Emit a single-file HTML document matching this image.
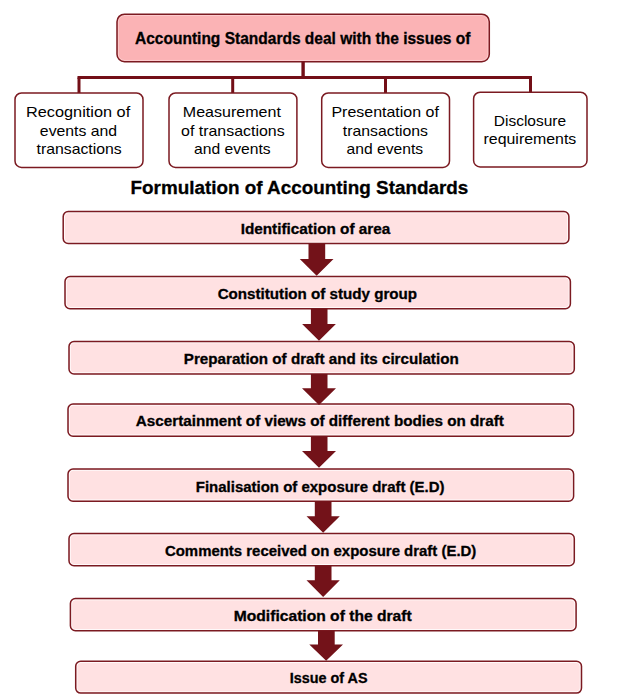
<!DOCTYPE html>
<html><head><meta charset="utf-8"><style>
html,body{margin:0;padding:0;background:#fff;width:630px;height:698px;overflow:hidden}
svg{display:block;font-family:"Liberation Sans",sans-serif}
</style></head><body>
<svg width="630" height="698" viewBox="0 0 630 698">
<rect x="117" y="14.2" width="372.30" height="47.50" rx="7.5" ry="7.5" fill="#fbb3b5"/>
<rect x="118.25" y="15.45" width="369.80" height="45.00" rx="6.25" ry="6.25" fill="none" stroke="#ffffff" stroke-opacity="0.35" stroke-width="1.0"/>
<rect x="117" y="14.2" width="372.30" height="47.50" rx="7.5" ry="7.5" fill="none" stroke="#7b1a21" stroke-width="1.5"/>
<line x1="77.5" y1="77.5" x2="532.0" y2="77.5" stroke="#730f17" stroke-width="3.0"/>
<line x1="303.1" y1="61.7" x2="303.1" y2="77.5" stroke="#730f17" stroke-width="3.4"/>
<line x1="79" y1="77.5" x2="79" y2="93" stroke="#730f17" stroke-width="3.0"/>
<line x1="232.7" y1="77.5" x2="232.7" y2="93" stroke="#730f17" stroke-width="3.0"/>
<line x1="385.5" y1="77.5" x2="385.5" y2="93" stroke="#730f17" stroke-width="3.0"/>
<line x1="530.5" y1="77.5" x2="530.5" y2="92.2" stroke="#730f17" stroke-width="3.0"/>
<rect x="15" y="93" width="128.00" height="74.40" rx="6.5" ry="6.5" fill="#ffffff"/>
<rect x="15" y="93" width="128.00" height="74.40" rx="6.5" ry="6.5" fill="none" stroke="#7b1a21" stroke-width="1.5"/>
<rect x="169" y="93" width="127.90" height="74.40" rx="6.5" ry="6.5" fill="#ffffff"/>
<rect x="169" y="93" width="127.90" height="74.40" rx="6.5" ry="6.5" fill="none" stroke="#7b1a21" stroke-width="1.5"/>
<rect x="321.7" y="93" width="127.80" height="74.40" rx="6.5" ry="6.5" fill="#ffffff"/>
<rect x="321.7" y="93" width="127.80" height="74.40" rx="6.5" ry="6.5" fill="none" stroke="#7b1a21" stroke-width="1.5"/>
<rect x="473.6" y="92.2" width="113.40" height="74.70" rx="6.5" ry="6.5" fill="#ffffff"/>
<rect x="473.6" y="92.2" width="113.40" height="74.70" rx="6.5" ry="6.5" fill="none" stroke="#7b1a21" stroke-width="1.5"/>
<rect x="63.2" y="211.5" width="505.70" height="32.00" rx="5" ry="5" fill="#ffe1e2"/>
<rect x="64.45" y="212.75" width="503.20" height="29.50" rx="3.75" ry="3.75" fill="none" stroke="#ffffff" stroke-opacity="0.85" stroke-width="1.0"/>
<rect x="63.2" y="211.5" width="505.70" height="32.00" rx="5" ry="5" fill="none" stroke="#7b1a21" stroke-width="1.5"/>
<rect x="65" y="276.5" width="505.40" height="32.20" rx="5" ry="5" fill="#ffe1e2"/>
<rect x="66.25" y="277.75" width="502.90" height="29.70" rx="3.75" ry="3.75" fill="none" stroke="#ffffff" stroke-opacity="0.85" stroke-width="1.0"/>
<rect x="65" y="276.5" width="505.40" height="32.20" rx="5" ry="5" fill="none" stroke="#7b1a21" stroke-width="1.5"/>
<rect x="69" y="341.5" width="505.30" height="32.50" rx="5" ry="5" fill="#ffe1e2"/>
<rect x="70.25" y="342.75" width="502.80" height="30.00" rx="3.75" ry="3.75" fill="none" stroke="#ffffff" stroke-opacity="0.85" stroke-width="1.0"/>
<rect x="69" y="341.5" width="505.30" height="32.50" rx="5" ry="5" fill="none" stroke="#7b1a21" stroke-width="1.5"/>
<rect x="68" y="404" width="505.60" height="32.20" rx="5" ry="5" fill="#ffe1e2"/>
<rect x="69.25" y="405.25" width="503.10" height="29.70" rx="3.75" ry="3.75" fill="none" stroke="#ffffff" stroke-opacity="0.85" stroke-width="1.0"/>
<rect x="68" y="404" width="505.60" height="32.20" rx="5" ry="5" fill="none" stroke="#7b1a21" stroke-width="1.5"/>
<rect x="68" y="469" width="505.60" height="32.20" rx="5" ry="5" fill="#ffe1e2"/>
<rect x="69.25" y="470.25" width="503.10" height="29.70" rx="3.75" ry="3.75" fill="none" stroke="#ffffff" stroke-opacity="0.85" stroke-width="1.0"/>
<rect x="68" y="469" width="505.60" height="32.20" rx="5" ry="5" fill="none" stroke="#7b1a21" stroke-width="1.5"/>
<rect x="69" y="533.6" width="505.30" height="32.20" rx="5" ry="5" fill="#ffe1e2"/>
<rect x="70.25" y="534.85" width="502.80" height="29.70" rx="3.75" ry="3.75" fill="none" stroke="#ffffff" stroke-opacity="0.85" stroke-width="1.0"/>
<rect x="69" y="533.6" width="505.30" height="32.20" rx="5" ry="5" fill="none" stroke="#7b1a21" stroke-width="1.5"/>
<rect x="70.4" y="598.6" width="505.70" height="32.20" rx="5" ry="5" fill="#ffe1e2"/>
<rect x="71.65" y="599.85" width="503.20" height="29.70" rx="3.75" ry="3.75" fill="none" stroke="#ffffff" stroke-opacity="0.85" stroke-width="1.0"/>
<rect x="70.4" y="598.6" width="505.70" height="32.20" rx="5" ry="5" fill="none" stroke="#7b1a21" stroke-width="1.5"/>
<rect x="75.7" y="661.3" width="505.80" height="31.80" rx="5" ry="5" fill="#ffe1e2"/>
<rect x="76.95" y="662.55" width="503.30" height="29.30" rx="3.75" ry="3.75" fill="none" stroke="#ffffff" stroke-opacity="0.85" stroke-width="1.0"/>
<rect x="75.7" y="661.3" width="505.80" height="31.80" rx="5" ry="5" fill="none" stroke="#7b1a21" stroke-width="1.5"/>
<polygon points="308.5,243.5 325.2,243.5 325.2,259 333.5,259 316.65,275.8 299.8,259 308.5,259" fill="#731219"/>
<polygon points="310.9,308.7 327.5,308.7 327.5,324 335.9,324 319.0,340.8 302.1,324 310.9,324" fill="#731219"/>
<polygon points="310.9,374 327.5,374 327.5,388.2 336,388.2 319.0,405 302,388.2 310.9,388.2" fill="#731219"/>
<polygon points="310.9,436.2 327.5,436.2 327.5,451 336,451 319.0,467.8 302,451 310.9,451" fill="#731219"/>
<polygon points="314.8,501.2 331.5,501.2 331.5,516.3 339.8,516.3 323.15,532.8 306.5,516.3 314.8,516.3" fill="#731219"/>
<polygon points="314.8,565.8 331.5,565.8 331.5,580.2 339.8,580.2 323.15,597 306.5,580.2 314.8,580.2" fill="#731219"/>
<polygon points="318,630.8 334.7,630.8 334.7,644.4 343,644.4 326.15,660.8 309.3,644.4 318,644.4" fill="#731219"/>
<text x="134.99" y="43.6" font-size="15.8" font-weight="bold" textLength="335.47" lengthAdjust="spacingAndGlyphs" fill="#000000" stroke="#000000" stroke-width="0.3">Accounting Standards deal with the issues of</text>
<text x="26.0" y="116.9" font-size="15.0" font-weight="normal" textLength="104.18" lengthAdjust="spacingAndGlyphs" fill="#000000" stroke="#000000" stroke-width="0.0">Recognition of</text>
<text x="39.87" y="136" font-size="15.0" font-weight="normal" textLength="77.26" lengthAdjust="spacingAndGlyphs" fill="#000000" stroke="#000000" stroke-width="0.0">events and</text>
<text x="36.56" y="154" font-size="15.0" font-weight="normal" textLength="85.2" lengthAdjust="spacingAndGlyphs" fill="#000000" stroke="#000000" stroke-width="0.0">transactions</text>
<text x="182.82" y="116.9" font-size="15.0" font-weight="normal" textLength="98.11" lengthAdjust="spacingAndGlyphs" fill="#000000" stroke="#000000" stroke-width="0.0">Measurement</text>
<text x="181.07" y="135.6" font-size="15.0" font-weight="normal" textLength="103.54" lengthAdjust="spacingAndGlyphs" fill="#000000" stroke="#000000" stroke-width="0.0">of transactions</text>
<text x="193.97" y="154" font-size="15.0" font-weight="normal" textLength="76.6" lengthAdjust="spacingAndGlyphs" fill="#000000" stroke="#000000" stroke-width="0.0">and events</text>
<text x="331.45" y="116.9" font-size="15.0" font-weight="normal" textLength="107.4" lengthAdjust="spacingAndGlyphs" fill="#000000" stroke="#000000" stroke-width="0.0">Presentation of</text>
<text x="342.82" y="135.6" font-size="15.0" font-weight="normal" textLength="85.19" lengthAdjust="spacingAndGlyphs" fill="#000000" stroke="#000000" stroke-width="0.0">transactions</text>
<text x="346.61" y="154" font-size="15.0" font-weight="normal" textLength="76.51" lengthAdjust="spacingAndGlyphs" fill="#000000" stroke="#000000" stroke-width="0.0">and events</text>
<text x="493.8" y="125.8" font-size="15.0" font-weight="normal" textLength="72.33" lengthAdjust="spacingAndGlyphs" fill="#000000" stroke="#000000" stroke-width="0.0">Disclosure</text>
<text x="483.56" y="143.7" font-size="15.0" font-weight="normal" textLength="92.74" lengthAdjust="spacingAndGlyphs" fill="#000000" stroke="#000000" stroke-width="0.0">requirements</text>
<text x="130.55" y="193.5" font-size="18.8" font-weight="bold" textLength="337.79" lengthAdjust="spacingAndGlyphs" fill="#000000" stroke="#000000" stroke-width="0.3">Formulation of Accounting Standards</text>
<text x="240.67" y="233.9" font-size="14.3" font-weight="bold" textLength="149.6" lengthAdjust="spacingAndGlyphs" fill="#000000" stroke="#000000" stroke-width="0.3">Identification of area</text>
<text x="217.7" y="298.8" font-size="14.3" font-weight="bold" textLength="199.35" lengthAdjust="spacingAndGlyphs" fill="#000000" stroke="#000000" stroke-width="0.3">Constitution of study group</text>
<text x="183.82" y="363.6" font-size="14.3" font-weight="bold" textLength="274.88" lengthAdjust="spacingAndGlyphs" fill="#000000" stroke="#000000" stroke-width="0.3">Preparation of draft and its circulation</text>
<text x="135.85" y="425.5" font-size="14.3" font-weight="bold" textLength="368.02" lengthAdjust="spacingAndGlyphs" fill="#000000" stroke="#000000" stroke-width="0.3">Ascertainment of views of different bodies on draft</text>
<text x="195.82" y="491.5" font-size="14.3" font-weight="bold" textLength="248.73" lengthAdjust="spacingAndGlyphs" fill="#000000" stroke="#000000" stroke-width="0.3">Finalisation of exposure draft (E.D)</text>
<text x="164.94" y="555.6" font-size="14.3" font-weight="bold" textLength="311.4" lengthAdjust="spacingAndGlyphs" fill="#000000" stroke="#000000" stroke-width="0.3">Comments received on exposure draft (E.D)</text>
<text x="233.78" y="620.6" font-size="14.3" font-weight="bold" textLength="177.92" lengthAdjust="spacingAndGlyphs" fill="#000000" stroke="#000000" stroke-width="0.3">Modification of the draft</text>
<text x="289.75" y="682.8" font-size="14.3" font-weight="bold" textLength="77.77" lengthAdjust="spacingAndGlyphs" fill="#000000" stroke="#000000" stroke-width="0.3">Issue of AS</text>
</svg>
</body></html>
